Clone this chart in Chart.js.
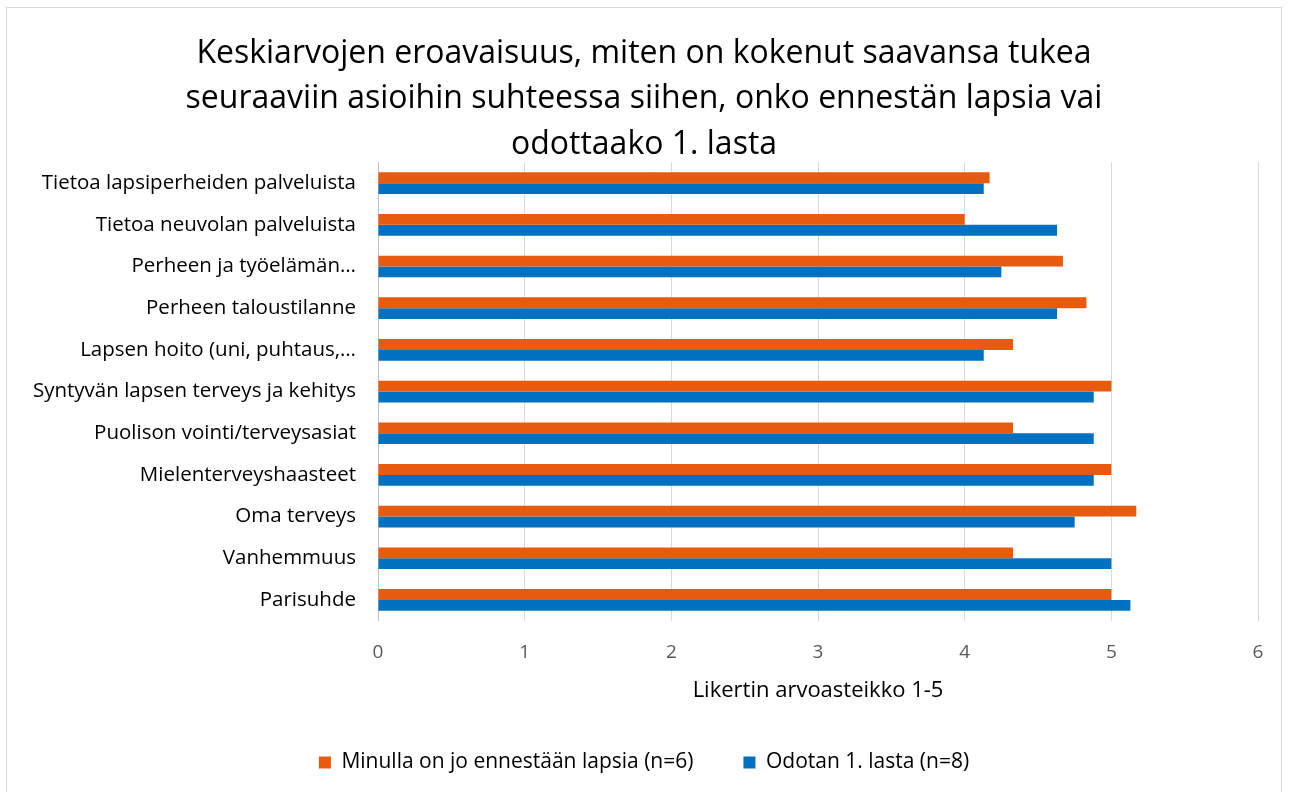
<!DOCTYPE html>
<html>
<head>
<meta charset="utf-8">
<script src="https://cdn.jsdelivr.net/npm/chart.js@4.4.1/dist/chart.umd.min.js"></script>
<style>
  body { margin: 0; background: #fff; overflow: hidden; }
  #wrap { position: relative; width: 1290px; height: 792px; }
  #frame { position: absolute; left: 6px; top: 7px; width: 1276px; height: 800px; border: 1px solid #d9d9d9; box-sizing: border-box; }
  canvas { position: absolute; left: 0; top: 0; }
</style>
</head>
<body>
<div id="wrap">
  <div id="frame"></div>
  <canvas id="chart" width="1290" height="792"></canvas>
</div>
<script>
// Categories, top to bottom
const categories = [
  "Tietoa lapsiperheiden palveluista",
  "Tietoa neuvolan palveluista",
  "Perheen ja työelämän…",
  "Perheen taloustilanne",
  "Lapsen hoito (uni, puhtaus,…",
  "Syntyvän lapsen terveys ja kehitys",
  "Puolison vointi/terveysasiat",
  "Mielenterveyshaasteet",
  "Oma terveys",
  "Vanhemmuus",
  "Parisuhde"
];

// Means
const hasChildren = [4.17, 4.0, 4.67, 4.83, 4.33, 5.0, 4.33, 5.0, 5.17, 4.33, 5.0];
const firstChild = [4.13, 4.63, 4.25, 4.63, 4.13, 4.88, 4.88, 4.88, 4.75, 5.0, 5.13];

const seriesNames = ["Minulla on jo ennestään lapsia (n=6)", "Odotan 1. lasta (n=8)"];
const titleLines = [
  "Keskiarvojen eroavaisuus, miten on kokenut saavansa tukea",
  "seuraaviin asioihin suhteessa siihen, onko ennestän lapsia vai",
  "odottaako 1. lasta"
];
const axisTitle = "Likertin arvoasteikko 1-5";

const fontFamily = "'Open Sans', sans-serif";

const ctx = document.getElementById('chart').getContext('2d');
new Chart(ctx, {
  type: 'bar',
  data: {
    labels: categories,
    datasets: [
      {
        label: seriesNames[0],
        data: hasChildren,
        backgroundColor: '#E85A0E',
        categoryPercentage: 0.52,
        barPercentage: 1.0
      },
      {
        label: seriesNames[1],
        data: firstChild,
        backgroundColor: '#0070C0',
        categoryPercentage: 0.52,
        barPercentage: 1.0
      }
    ]
  },
  options: {
    indexAxis: 'y',
    responsive: false,
    animation: false,
    layout: { padding: { left: 30, right: 32, top: 31, bottom: 9 } },
    scales: {
      x: {
        min: 0,
        max: 6,
        ticks: { stepSize: 1, color: '#595959', font: { family: fontFamily, size: 19 }, padding: 20 },
        grid: { color: '#d9d9d9', lineWidth: 1, drawTicks: false },
        border: { display: false },
        title: { display: true, text: axisTitle, color: '#000', font: { family: fontFamily, size: 22 }, padding: { top: -6, bottom: -2 } }
      },
      y: {
        afterFit: (scale) => { scale.width = 348; },
        ticks: { color: '#000', font: { family: fontFamily, size: 20.5 }, padding: 22, autoSkip: false },
        grid: { display: false, drawTicks: false },
        border: { display: true, color: '#bfbfbf', width: 1 }
      }
    },
    plugins: {
      title: {
        display: true,
        text: titleLines,
        color: '#000',
        font: { family: fontFamily, size: 32, weight: 'normal', lineHeight: 1.42 },
        padding: { top: 0, bottom: -5 }
      },
      legend: {
        position: 'bottom',
        labels: {
          color: '#000',
          font: { family: fontFamily, size: 21 },
          boxWidth: 12,
          boxHeight: 12,
          padding: 50
        }
      },
      tooltip: { enabled: false }
    }
  }
});
</script>
</body>
</html>
